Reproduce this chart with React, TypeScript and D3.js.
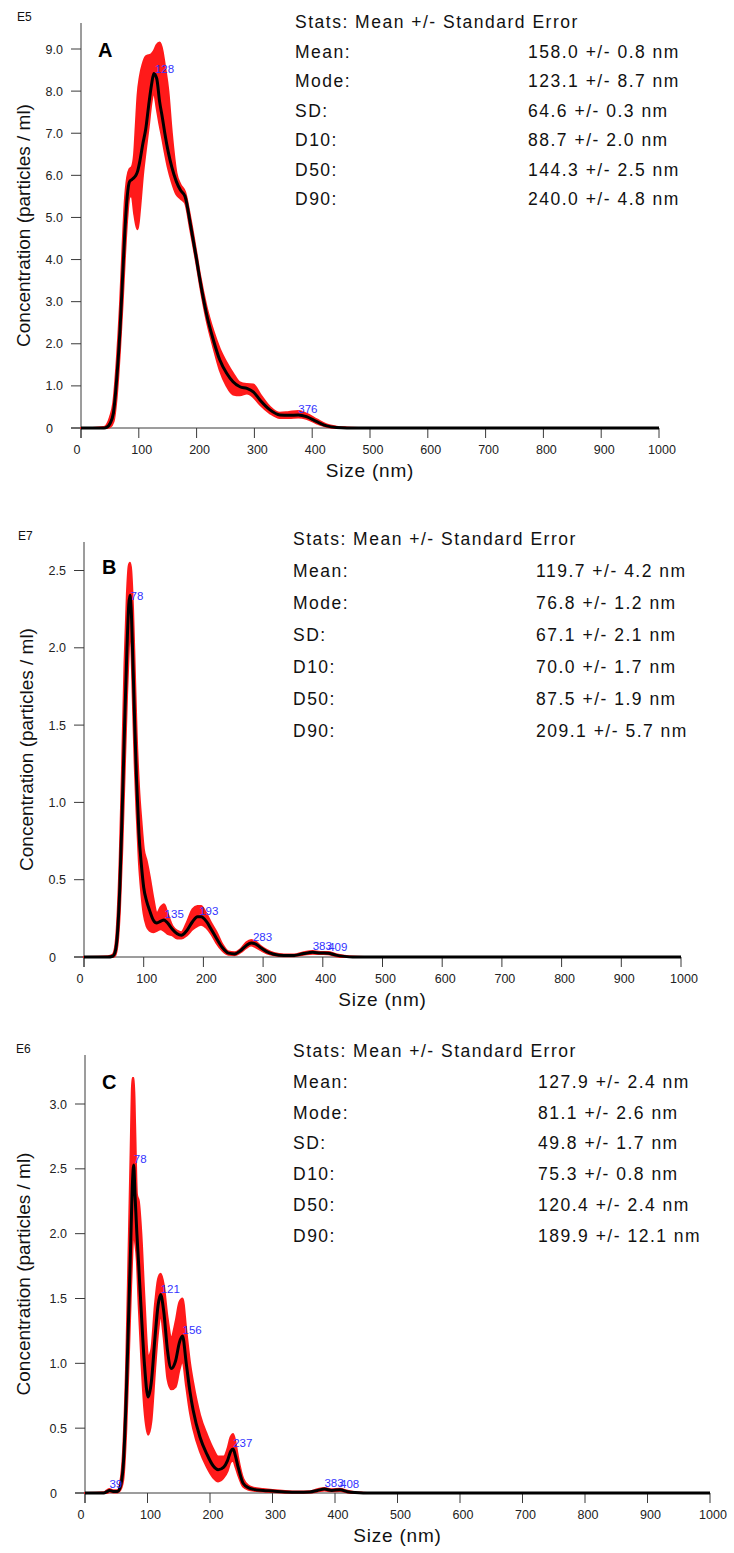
import React from 'react';
import * as d3 from 'd3';

// ---------- shared ----------
const xTickValues = [0, 100, 200, 300, 400, 500, 600, 700, 800, 900, 1000];
const statTitle = 'Stats: Mean +/- Standard Error';
const statLabels = ['Mean:', 'Mode:', 'SD:', 'D10:', 'D50:', 'D90:'];
const xTitle = 'Size (nm)';
const yTitle = 'Concentration (particles / ml)';

// ---------- panel A (E5) ----------
const statsA = ['158.0 +/- 0.8 nm', '123.1 +/- 8.7 nm', '64.6 +/- 0.3 nm', '88.7 +/- 2.0 nm', '144.3 +/- 2.5 nm', '240.0 +/- 4.8 nm'];
const yTicksA = [0, 1, 2, 3, 4, 5, 6, 7, 8, 9];
const yTickLabelsA = ['0', '1.0', '2.0', '3.0', '4.0', '5.0', '6.0', '7.0', '8.0', '9.0'];
const peaksA = [128, 376];
const sizesA = [0, 20, 40, 45, 50, 56, 62, 67.5, 72, 76, 80, 84, 88, 92, 95, 98, 102, 107, 112, 117, 122, 126, 131, 136, 141, 145, 151, 157, 165, 172, 180, 189, 200, 206, 217, 229, 240, 252, 263, 275, 287, 298, 310, 327, 344, 360, 376, 390, 408, 425, 442, 460, 480, 1000];
const meanA = [0, 0, 0, 0.02, 0.1, 0.35, 1.2, 2.33, 3.6, 4.7, 5.5, 5.85, 5.9, 5.95, 6.0, 6.1, 6.35, 6.75, 7.1, 7.65, 8.15, 8.42, 8.3, 7.75, 7.35, 7.0, 6.55, 6.2, 5.85, 5.65, 5.5, 4.86, 4.0, 3.5, 2.72, 2.09, 1.62, 1.3, 1.1, 0.98, 0.94, 0.86, 0.66, 0.43, 0.31, 0.3, 0.31, 0.27, 0.15, 0.05, 0.01, 0, 0, 0];
const upperA = [0, 0, 0.02, 0.08, 0.25, 0.6, 1.6, 2.9, 4.3, 5.4, 5.95, 6.15, 6.2, 6.5, 7.2, 7.9, 8.35, 8.65, 8.82, 8.85, 8.88, 8.95, 9.1, 9.15, 8.95, 8.6, 8.0, 7.0, 6.05, 5.78, 5.6, 5.0, 4.12, 3.62, 2.88, 2.3, 1.88, 1.55, 1.3, 1.08, 1.04, 1.03, 0.8, 0.5, 0.36, 0.38, 0.4, 0.34, 0.2, 0.08, 0.03, 0.01, 0, 0];
const lowerA = [0, 0, 0, 0, 0.02, 0.15, 0.8, 1.9, 3.0, 4.1, 5.0, 5.5, 5.5, 5.1, 4.85, 4.72, 5.2, 6.0, 6.6, 7.15, 7.75, 7.98, 7.6, 7.2, 6.85, 6.55, 6.15, 5.85, 5.55, 5.45, 5.35, 4.72, 3.88, 3.38, 2.58, 1.92, 1.38, 1.0, 0.8, 0.78, 0.82, 0.74, 0.55, 0.35, 0.24, 0.24, 0.25, 0.22, 0.11, 0.03, 0, 0, 0, 0];

// ---------- panel B (E7) ----------
const statsB = ['119.7 +/- 4.2 nm', '76.8 +/- 1.2 nm', '67.1 +/- 2.1 nm', '70.0 +/- 1.7 nm', '87.5 +/- 1.9 nm', '209.1 +/- 5.7 nm'];
const yTicksB = [0, 0.5, 1, 1.5, 2, 2.5];
const yTickLabelsB = ['0', '0.5', '1.0', '1.5', '2.0', '2.5'];
const peaksB = [78, 135, 193, 283, 383, 409];
const sizesB = [0, 40, 48, 52, 56, 60, 64, 68, 72, 75, 77, 79, 82, 85, 88, 92, 96, 100, 105, 110, 116, 122, 128, 134, 140, 148, 156, 163, 172, 182, 190, 196, 205, 213, 222, 232, 242, 252, 262, 272, 280, 287, 296, 306, 318, 335, 352, 368, 383, 396, 409, 422, 436, 450, 470, 1000];
const meanB = [0, 0, 0.005, 0.03, 0.15, 0.45, 0.95, 1.5, 2.0, 2.28, 2.34, 2.25, 1.9, 1.5, 1.15, 0.8, 0.6, 0.45, 0.36, 0.3, 0.24, 0.22, 0.23, 0.24, 0.22, 0.18, 0.15, 0.14, 0.17, 0.23, 0.26, 0.26, 0.23, 0.18, 0.12, 0.06, 0.025, 0.02, 0.04, 0.075, 0.09, 0.085, 0.06, 0.035, 0.018, 0.01, 0.01, 0.022, 0.03, 0.026, 0.025, 0.012, 0.004, 0, 0, 0];
const upperB = [0, 0.005, 0.015, 0.06, 0.25, 0.65, 1.25, 1.9, 2.35, 2.53, 2.55, 2.5, 2.25, 1.85, 1.45, 1.1, 0.88, 0.7, 0.62, 0.52, 0.38, 0.28, 0.32, 0.34, 0.28, 0.2, 0.17, 0.16, 0.22, 0.31, 0.33, 0.33, 0.28, 0.22, 0.16, 0.08, 0.035, 0.03, 0.05, 0.095, 0.11, 0.1, 0.07, 0.045, 0.025, 0.015, 0.015, 0.03, 0.038, 0.032, 0.032, 0.018, 0.008, 0.002, 0, 0];
const lowerB = [0, 0, 0, 0.01, 0.08, 0.3, 0.7, 1.2, 1.7, 2.0, 2.15, 2.05, 1.65, 1.25, 0.95, 0.62, 0.42, 0.28, 0.2, 0.17, 0.16, 0.17, 0.18, 0.17, 0.15, 0.14, 0.12, 0.12, 0.14, 0.18, 0.2, 0.21, 0.19, 0.15, 0.09, 0.04, 0.015, 0.012, 0.03, 0.06, 0.075, 0.065, 0.045, 0.025, 0.012, 0.005, 0.006, 0.015, 0.022, 0.02, 0.018, 0.006, 0, 0, 0, 0];

// ---------- panel C (E6) ----------
const statsC = ['127.9 +/- 2.4 nm', '81.1 +/- 2.6 nm', '49.8 +/- 1.7 nm', '75.3 +/- 0.8 nm', '120.4 +/- 2.4 nm', '189.9 +/- 12.1 nm'];
const yTicksC = [0, 0.5, 1, 1.5, 2, 2.5, 3];
const yTickLabelsC = ['0', '0.5', '1.0', '1.5', '2.0', '2.5', '3.0'];
const peaksC = [39, 78, 121, 156, 237, 383, 408];
const sizesC = [0, 30, 35, 39, 45, 52, 56, 61, 66, 70, 73, 76, 78, 80, 83, 86, 90, 95, 101, 106, 112, 117, 121, 126, 132, 138, 145, 151, 156, 162, 168, 173, 184, 195, 205, 213, 222, 228, 233, 237, 241, 245, 253, 262, 270, 285, 300, 320, 340, 360, 372, 383, 395, 408, 420, 432, 445, 460, 1000];
const meanC = [0, 0, 0.01, 0.02, 0.012, 0.012, 0.04, 0.2, 0.75, 1.4, 1.9, 2.4, 2.53, 2.3, 2.0, 1.75, 1.4, 1.0, 0.74, 0.85, 1.2, 1.45, 1.53, 1.4, 1.1, 0.96, 1.02, 1.16, 1.21, 1.0, 0.78, 0.64, 0.43, 0.3, 0.21, 0.18, 0.2, 0.25, 0.32, 0.34, 0.28, 0.2, 0.075, 0.04, 0.028, 0.02, 0.015, 0.008, 0.005, 0.008, 0.02, 0.03, 0.02, 0.025, 0.01, 0.003, 0, 0, 0];
const upperC = [0, 0.005, 0.02, 0.03, 0.02, 0.02, 0.07, 0.32, 1.0, 1.9, 2.6, 3.2, 3.2, 2.85, 2.3, 2.25, 2.0, 1.5, 1.05, 1.1, 1.45, 1.65, 1.69, 1.6, 1.35, 1.2, 1.32, 1.47, 1.5, 1.25, 1.0, 0.85, 0.6, 0.45, 0.34, 0.28, 0.28, 0.34, 0.43, 0.455, 0.38, 0.27, 0.11, 0.055, 0.04, 0.03, 0.022, 0.014, 0.01, 0.013, 0.028, 0.038, 0.028, 0.032, 0.016, 0.006, 0.002, 0, 0];
const lowerC = [0, 0, 0, 0.01, 0.005, 0.005, 0.02, 0.1, 0.5, 1.05, 1.5, 1.9, 2.05, 1.95, 1.8, 1.45, 1.05, 0.65, 0.45, 0.55, 0.95, 1.25, 1.38, 1.2, 0.88, 0.8, 0.82, 0.95, 1.02, 0.82, 0.62, 0.5, 0.32, 0.2, 0.12, 0.09, 0.12, 0.17, 0.24, 0.25, 0.2, 0.14, 0.05, 0.025, 0.018, 0.012, 0.008, 0.003, 0.002, 0.004, 0.012, 0.02, 0.014, 0.016, 0.005, 0, 0, 0, 0];

const FONT = '"Liberation Sans", Arial, Helvetica, sans-serif';

type PanelProps = {
  sizes: number[]; mean: number[]; upper: number[]; lower: number[];
  peaks: number[]; yTicks: number[]; yTickLabels: string[]; stats: string[];
  exp: string; letter: string;
  layout: {
    x0: number; x1: number; y0: number; refVal: number; refPx: number; axisTop: number;
    expX: number; expY: number; letterX: number; letterY: number;
    yTitleX: number; labelX: number; valueX: number; statY0: number; statDy: number;
  };
};

function Panel(p: PanelProps) {
  const L = p.layout;
  const x = d3.scaleLinear().domain([0, 1000]).range([L.x0, L.x1]);
  const y = d3.scaleLinear().domain([0, L.refVal]).range([L.y0, L.refPx]);
  const pts = p.sizes.map((s, i) => ({ s, m: p.mean[i], u: p.upper[i], l: p.lower[i] }));
  const band = pts.filter((d) => d.s <= 480);
  const area = d3.area<any>().x((d) => x(d.s)).y0((d) => y(d.l)).y1((d) => y(d.u)).curve(d3.curveMonotoneX);
  const line = d3.line<any>().x((d) => x(d.s)).y((d) => y(d.m)).curve(d3.curveMonotoneX);
  const interp = d3.scaleLinear().domain(p.sizes).range(p.mean);
  const axisColor = '#3a3a3a';
  const midY = (L.axisTop + L.y0) / 2;
  return (
    <g>
      <text x={L.expX} y={L.expY} fontSize={12} fontFamily={FONT} fill="#111">{p.exp}</text>
      <text x={L.letterX} y={L.letterY} fontSize={20} fontWeight="bold" fontFamily={FONT} fill="#000">{p.letter}</text>
      {/* axes */}
      <line x1={L.x0} x2={L.x0} y1={L.axisTop} y2={L.y0 + 10} stroke={axisColor} strokeWidth={1} />
      <line x1={L.x0 - 10} x2={L.x1} y1={L.y0} y2={L.y0} stroke={axisColor} strokeWidth={1} />
      {p.yTicks.map((t, i) => (
        <g key={'yt' + i}>
          <line x1={L.x0 - 10} x2={L.x0} y1={y(t)} y2={y(t)} stroke={axisColor} strokeWidth={1} />
          <text x={t === 0 ? L.x0 - 28 : L.x0 - 18} y={y(t)} dy="0.36em" textAnchor="end" fontSize={12.5} fontFamily={FONT} fill="#222">{p.yTickLabels[i]}</text>
        </g>
      ))}
      {xTickValues.map((t) => (
        <g key={'xt' + t}>
          <line x1={x(t)} x2={x(t)} y1={L.y0} y2={L.y0 + 10} stroke={axisColor} strokeWidth={1} />
          <text x={t === 0 ? x(t) - 4 : x(t) + 3} y={L.y0 + 25.5} textAnchor="middle" fontSize={12.5} fontFamily={FONT} fill="#222">{String(t)}</text>
        </g>
      ))}
      <text x={(L.x0 + L.x1) / 2} y={L.y0 + 49} textAnchor="middle" fontSize={19} fontFamily={FONT} fill="#111" letterSpacing={0.8}>{xTitle}</text>
      <text transform={`translate(${L.yTitleX},${midY}) rotate(-90)`} textAnchor="middle" fontSize={19} fontFamily={FONT} fill="#111">{yTitle}</text>
      {/* data */}
      <path d={area(band) || ''} fill="#ff1a1a" stroke="#ff1a1a" strokeWidth={2.2} strokeLinejoin="round" />
      <path d={line(pts) || ''} fill="none" stroke="#000" strokeWidth={3} strokeLinejoin="round" />
      {p.peaks.map((pk) => (
        <text key={'pk' + pk} x={x(pk)} y={y(interp(pk)) - 2} fontSize={11.5} fontFamily={FONT} fill="#3333ff">{String(pk)}</text>
      ))}
      {/* stats */}
      <text x={L.labelX} y={L.statY0} fontSize={17.5} fontFamily={FONT} fill="#111" letterSpacing={1.5}>{statTitle}</text>
      {statLabels.map((s, i) => (
        <g key={'st' + i}>
          <text x={L.labelX} y={L.statY0 + L.statDy * (i + 1)} fontSize={17.5} fontFamily={FONT} fill="#111" letterSpacing={1.5}>{s}</text>
          <text x={L.valueX} y={L.statY0 + L.statDy * (i + 1)} fontSize={17.5} fontFamily={FONT} fill="#111" letterSpacing={1.5}>{p.stats[i]}</text>
        </g>
      ))}
    </g>
  );
}

export default function App() {
  return (
    <svg width={734} height={1553} style={{ position: 'absolute', left: 0, top: 0, background: '#fff' }}>
      <rect x={0} y={0} width={734} height={1553} fill="#fff" />
      <Panel sizes={sizesA} mean={meanA} upper={upperA} lower={lowerA} peaks={peaksA}
        yTicks={yTicksA} yTickLabels={yTickLabelsA} stats={statsA} exp="E5" letter="A"
        layout={{ x0: 81, x1: 659, y0: 428, refVal: 9, refPx: 49, axisTop: 23, expX: 17, expY: 21, letterX: 98, letterY: 57,
          yTitleX: 30, labelX: 295, valueX: 528, statY0: 28, statDy: 29.5 }} />
      <Panel sizes={sizesB} mean={meanB} upper={upperB} lower={lowerB} peaks={peaksB}
        yTicks={yTicksB} yTickLabels={yTickLabelsB} stats={statsB} exp="E7" letter="B"
        layout={{ x0: 84, x1: 681, y0: 957, refVal: 2.5, refPx: 570.5, axisTop: 542, expX: 18, expY: 540, letterX: 102, letterY: 574,
          yTitleX: 33, labelX: 293, valueX: 536, statY0: 545, statDy: 32 }} />
      <Panel sizes={sizesC} mean={meanC} upper={upperC} lower={lowerC} peaks={peaksC}
        yTicks={yTicksC} yTickLabels={yTickLabelsC} stats={statsC} exp="E6" letter="C"
        layout={{ x0: 85, x1: 710, y0: 1493, refVal: 3, refPx: 1104, axisTop: 1055, expX: 16, expY: 1053, letterX: 102, letterY: 1089,
          yTitleX: 30, labelX: 293, valueX: 538, statY0: 1057, statDy: 30.8 }} />
    </svg>
  );
}
